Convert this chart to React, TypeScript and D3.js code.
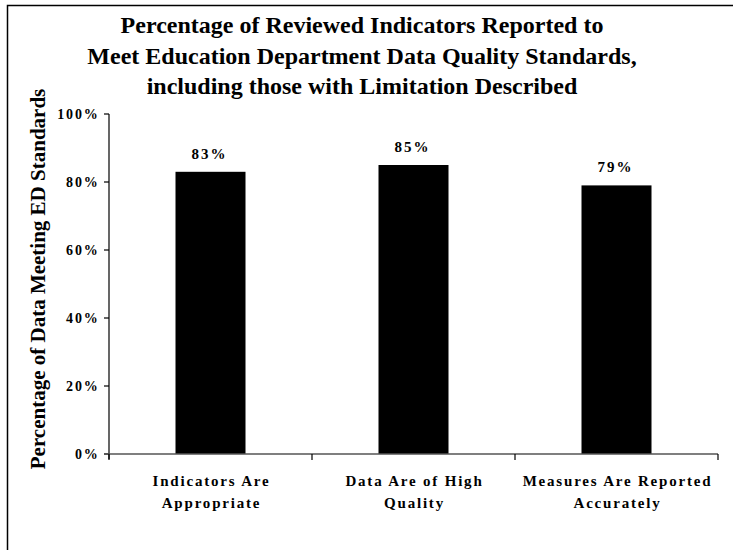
import React from "react";
import * as d3 from "d3";

const categories: string[][] = [
  ["Indicators Are", "Appropriate"],
  ["Data Are of High", "Quality"],
  ["Measures Are Reported", "Accurately"],
];
const values: number[] = [83, 85, 79];
const yTicks: number[] = [0, 20, 40, 60, 80, 100];
const titleLines: string[] = [
  "Percentage of Reviewed Indicators Reported to",
  "Meet Education Department Data Quality Standards,",
  "including those with Limitation Described",
];
const yTitle = "Percentage of Data Meeting ED Standards";

const W = 733;
const H = 550;
const FONT = "'Liberation Serif', 'Times New Roman', serif";

export default function App() {
  const x0 = 109, x1 = 718, yTop = 114, yBot = 454;
  const x = d3.scaleBand<number>().domain(d3.range(categories.length)).range([x0, x1]).paddingInner(0).paddingOuter(0);
  const y = d3.scaleLinear().domain([0, 100]).range([yBot, yTop]);
  const bw = 70;
  const bounds = [x0, ...categories.map((_, i) => (x(i) as number) + x.bandwidth())];

  return (
    <svg width={W} height={H} style={{ position: "absolute", left: 0, top: 0, background: "#fff" }}>
      <rect x={0} y={0} width={W} height={H} fill="#fff" />
      <path d={`M7.5,${H} V5.5 H${W}`} fill="none" stroke="#000" strokeWidth={1.5} />
      {titleLines.map((t, i) => (
        <text key={i} x={362} y={33 + i * 30.5} textAnchor="middle" fontFamily={FONT} fontWeight="bold" fontSize={24} fill="#000">
          {t}
        </text>
      ))}
      <text
        transform={`translate(45,${279}) rotate(-90)`}
        textAnchor="middle"
        fontFamily={FONT}
        fontWeight="bold"
        fontSize={21}
        fill="#000"
      >
        {yTitle}
      </text>
      {/* y axis */}
      <line x1={x0} x2={x0} y1={yTop} y2={yBot + 5} stroke="#000" strokeWidth={1.2} />
      {yTicks.map((t) => (
        <g key={t}>
          <line x1={x0 - 5} x2={x0} y1={y(t)} y2={y(t)} stroke="#000" strokeWidth={1.2} />
          <text x={99.5} y={y(t) + 5} textAnchor="end" fontFamily={FONT} fontWeight="bold" fontSize={14} letterSpacing={1.8} fill="#000">
            {t}%
          </text>
        </g>
      ))}
      {/* bars */}
      {values.map((v, i) => {
        const cx = (x(i) as number) + x.bandwidth() / 2;
        return (
          <g key={i}>
            <rect x={cx - bw / 2} y={y(v)} width={bw} height={yBot - y(v)} fill="#000" />
            <text x={cx - 1} y={y(v) - 13} textAnchor="middle" fontFamily={FONT} fontWeight="bold" fontSize={15} letterSpacing={2} fill="#000">
              {v}%
            </text>
          </g>
        );
      })}
      {/* x axis */}
      <line x1={x0 - 5} x2={x1} y1={yBot} y2={yBot} stroke="#555" strokeWidth={1.5} />
      {bounds.map((b, i) => (
        <line key={i} x1={b} x2={b} y1={yBot} y2={yBot + 6} stroke="#000" strokeWidth={1.2} />
      ))}
      {categories.map((lines, i) => {
        const cx = (x(i) as number) + x.bandwidth() / 2;
        return (
          <text key={i} textAnchor="middle" fontFamily={FONT} fontWeight="bold" fontSize={15} letterSpacing={1.8} fill="#000">
            {lines.map((l, j) => (
              <tspan key={j} x={cx + 1} y={486 + j * 22}>
                {l}
              </tspan>
            ))}
          </text>
        );
      })}
    </svg>
  );
}
